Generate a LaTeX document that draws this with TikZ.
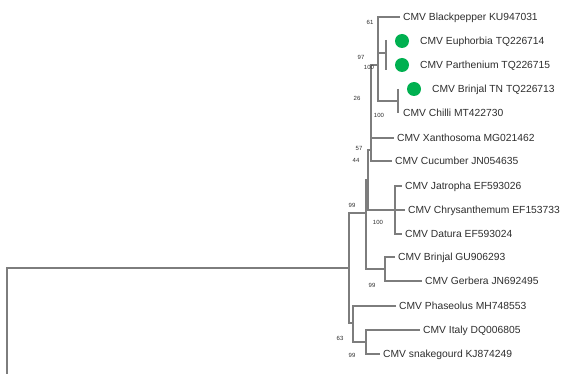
\documentclass[tikz,border=0pt]{standalone}
\usepackage{fontspec}
\setmainfont{Liberation Sans}
\definecolor{linegray}{RGB}{125,125,125}
\definecolor{labelgray}{RGB}{45,45,45}
\definecolor{markgreen}{RGB}{0,176,80}
\tikzset{
  branch/.style={draw=linegray, line width=1.1pt},
  taxon/.style={anchor=west, inner xsep=3pt, inner ysep=0pt, text height=7.4pt, text depth=0pt,
    font=\fontsize{10.3}{12}\selectfont, text=labelgray},
  boot/.style={inner sep=0pt, font=\fontsize{6}{7}\selectfont, text=labelgray},
  marker/.style={circle, fill=markgreen, minimum size=14pt, inner sep=0pt}
}

\begin{document}
\begin{tikzpicture}[x=1pt, y=-1pt]
  \useasboundingbox (0,0) rectangle (563,374);

  \node[taxon] (blackpepper) at (400,17) {CMV Blackpepper KU947031};
  \node[marker] (dotE) at (402,41) {};
  \node[taxon] (euphorbia) at (417,41) {CMV Euphorbia TQ226714};
  \node[marker] (dotP) at (402,65) {};
  \node[taxon] (parthenium) at (417,65) {CMV Parthenium TQ226715};
  \node[marker] (dotB) at (414,89) {};
  \node[taxon] (brinjaltn) at (429,89) {CMV Brinjal TN TQ226713};
  \node[taxon] (chilli) at (400,113) {CMV Chilli MT422730};
  \node[taxon] (xanthosoma) at (394,138) {CMV Xanthosoma MG021462};
  \node[taxon] (cucumber) at (392,161) {CMV Cucumber JN054635};
  \node[taxon] (jatropha) at (402,186) {CMV Jatropha EF593026};
  \node[taxon] (chrysanthemum) at (405,210) {CMV Chrysanthemum EF153733};
  \node[taxon] (datura) at (402,234) {CMV Datura EF593024};
  \node[taxon] (brinjalgu) at (395,257) {CMV Brinjal GU906293};
  \node[taxon] (gerbera) at (422,281) {CMV Gerbera JN692495};
  \node[taxon] (phaseolus) at (396,306) {CMV Phaseolus MH748553};
  \node[taxon] (italy) at (420,330) {CMV Italy DQ006805};
  \node[taxon] (snakegourd) at (380,354) {CMV snakegourd KJ874249};

  \coordinate (tipE) at (386,40);
  \coordinate (tipP) at (386,70);
  \coordinate (tipB) at (398,89);
  \coordinate (tipC) at (398,113);
  \coordinate (nEP) at (386,53);
  \coordinate (nTC) at (398,101);
  \coordinate (nA) at (378,65);
  \coordinate (nB) at (371,150);
  \coordinate (nC) at (368,180);
  \coordinate (nJ) at (395,210);
  \coordinate (nD) at (366,213);
  \coordinate (nG) at (385,269);
  \coordinate (n99) at (349,268);
  \coordinate (nP) at (353,323);
  \coordinate (nI) at (366,342);
  \coordinate (root) at (7,268);
  \coordinate (rootend) at (7,374);

  \draw[branch] (tipE) -- (tipP);
  \draw[branch] (tipB) -- (tipC);
  \draw[branch] (blackpepper.west) -| (nA |- nTC) -- (nTC);
  \draw[branch] (nA |- nEP) -- (nEP);
  \draw[branch] (nA) -| (nB |- cucumber.west) -- (cucumber.west);
  \draw[branch] (nB |- xanthosoma.west) -- (xanthosoma.west);
  \draw[branch] (nB) -| (nC |- nJ) -- (nJ);
  \draw[branch] (jatropha.west) -| (nJ |- datura.west) -- (datura.west);
  \draw[branch] (nJ) -- (chrysanthemum.west);
  \draw[branch] (nC) -| (nD |- nG) -- (nG);
  \draw[branch] (brinjalgu.west) -| (nG |- gerbera.west) -- (gerbera.west);
  \draw[branch] (nD) -| (n99 |- nP) -- (nP);
  \draw[branch] (phaseolus.west) -| (nP |- nI) -- (nI);
  \draw[branch] (italy.west) -| (nI |- snakegourd.west) -- (snakegourd.west);
  \draw[branch] (rootend) -- (root) -- (n99);

  \node[boot] (b61) at (370,22) {61};
  \node[boot] (b97) at (361,57) {97};
  \node[boot] (b100a) at (369,67) {100};
  \node[boot] (b26) at (357,98) {26};
  \node[boot] (b100b) at (379,115) {100};
  \node[boot] (b57) at (359,148) {57};
  \node[boot] (b44) at (356,160) {44};
  \node[boot] (b99a) at (352,205) {99};
  \node[boot] (b100c) at (378,222) {100};
  \node[boot] (b99b) at (372,285) {99};
  \node[boot] (b63) at (340,338) {63};
  \node[boot] (b99c) at (352,355) {99};
\end{tikzpicture}
\end{document}
